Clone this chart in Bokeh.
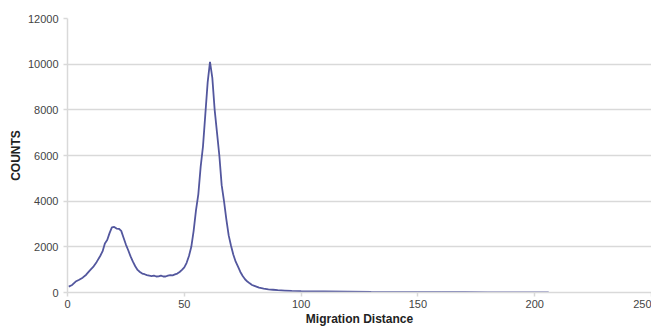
from bokeh.plotting import figure
from bokeh.models import ColumnDataSource, Range1d, FixedTicker
from bokeh.embed import file_html
from bokeh.resources import INLINE

# Data
distance = [0.5, 2, 3.5, 5, 6.5, 8, 9.5, 11, 12.5, 14, 15, 16, 17, 18, 19, 20, 21, 22, 23, 24,
            25, 26, 27, 28, 29, 30, 31, 32, 33, 34, 35, 36, 37, 38, 39, 40, 41, 42, 43, 44,
            45, 46, 47, 48, 49, 50, 51, 52, 53, 54, 55, 56, 57, 58, 59, 60, 61, 62, 63, 64,
            65, 66, 67, 68, 69, 70, 71, 72, 73, 74, 75, 76, 77, 78, 79, 80, 82, 84, 86, 88,
            90, 93, 96, 100, 105, 110, 120, 130, 140, 150, 160, 170, 180, 190, 200, 206]
counts = [260, 330, 480, 560, 650, 780, 960, 1120, 1340, 1600, 1800, 2150, 2300, 2600, 2850, 2870, 2800, 2790, 2700, 2400,
          2100, 1850, 1580, 1350, 1150, 990, 900, 830, 800, 760, 740, 720, 740, 700, 710, 740, 700, 700, 740, 760,
          750, 790, 830, 900, 990, 1100, 1300, 1600, 2000, 2700, 3600, 4300, 5500, 6400, 7800, 9200, 10100, 9400, 8000, 7000,
          6000, 4700, 4000, 3200, 2500, 2050, 1650, 1350, 1130, 900, 720, 580, 480, 400, 330, 290, 210, 170, 140, 120,
          100, 85, 70, 60, 50, 45, 35, 25, 20, 15, 12, 10, 8, 6, 5, 4]
x_ticks = [0, 50, 100, 150, 200, 250]
y_ticks = [0, 2000, 4000, 6000, 8000, 10000, 12000]

src = ColumnDataSource(data=dict(x=distance, y=counts))

p = figure(frame_width=584, frame_height=274, output_backend="svg", toolbar_location=None,
           x_range=Range1d(0, 250), y_range=Range1d(0, 12000),
           min_border_left=67, min_border_right=0, min_border_top=18, min_border_bottom=0)
p.outline_line_color = None
p.background_fill_color = "white"

p.line("x", "y", source=src, line_color="#53579e", line_width=1.8)

p.xgrid.grid_line_color = None
p.ygrid.grid_line_color = "#d9d9d9"
p.ygrid.grid_line_width = 1.5
p.xaxis.ticker = FixedTicker(ticks=x_ticks)
p.yaxis.ticker = FixedTicker(ticks=y_ticks)

for ax in (p.xaxis[0], p.yaxis[0]):
    ax.axis_line_color = "#d9d9d9"
    ax.axis_line_width = 1.5
    ax.major_tick_line_color = "#d9d9d9"
    ax.major_tick_line_width = 1.5
    ax.major_tick_out = 4
    ax.major_tick_in = 0
    ax.minor_tick_line_color = None
    ax.major_label_text_font = "Liberation Sans"
    ax.major_label_text_font_size = "11px"
    ax.major_label_text_color = "#444444"
    ax.axis_label_text_font = "Liberation Sans"
    ax.axis_label_text_font_size = "12px"
    ax.axis_label_text_font_style = "bold"
    ax.axis_label_text_color = "#222222"

p.xaxis.axis_label = "Migration Distance"
p.yaxis.axis_label = "COUNTS"
p.xaxis.major_label_standoff = 3
p.yaxis.major_label_standoff = 5
p.xaxis.axis_label_standoff = 1
p.yaxis.axis_label_standoff = 2

open("out.html", "w").write(file_html(p, INLINE))
